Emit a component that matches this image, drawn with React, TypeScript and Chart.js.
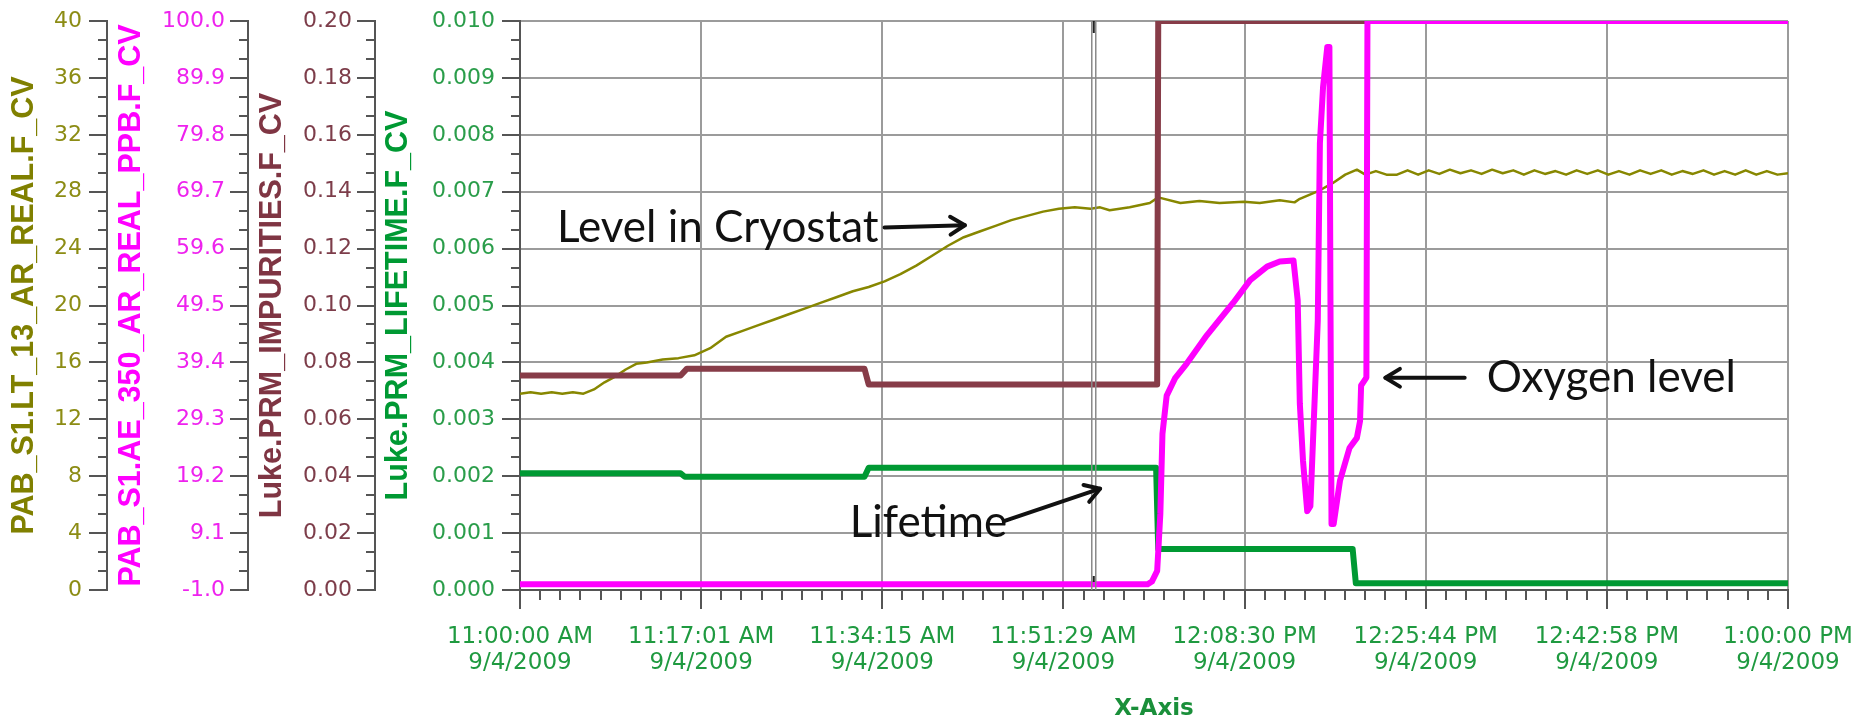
import { useEffect, useRef } from 'react';
import { Chart, registerables } from 'chart.js';

Chart.register(...registerables);

// ---------- tick labels ----------
const DATE_LABEL = '9/4/2009';
const xTickTimes = ['11:00:00 AM', '11:17:01 AM', '11:34:15 AM', '11:51:29 AM', '12:08:30 PM', '12:25:44 PM', '12:42:58 PM', '1:00:00 PM'];
const X_MIN = 0; // minutes after 11:00:00 AM
const X_MAX = 120;
const X_MINOR_DIV = 9;
const Y_MINOR_DIV = 3;

const levelTicks = ['0', '4', '8', '12', '16', '20', '24', '28', '32', '36', '40'];
const oxygenTicks = ['-1.0', '9.1', '19.2', '29.3', '39.4', '49.5', '59.6', '69.7', '79.8', '89.9', '100.0'];
const impTicks = ['0.00', '0.02', '0.04', '0.06', '0.08', '0.10', '0.12', '0.14', '0.16', '0.18', '0.20'];
const lifeTicks = ['0.000', '0.001', '0.002', '0.003', '0.004', '0.005', '0.006', '0.007', '0.008', '0.009', '0.010'];

// ---------- series (x in minutes after 11:00 AM) ----------
const levelTime = [0, 1, 2, 3, 4, 5, 6, 7, 8, 9, 10, 11, 12, 13.5, 15, 16.5, 18, 19.5, 21, 22.5, 24, 25.5, 27, 28.5, 30, 31.5, 33, 34.5, 36, 37.5, 39, 40.5, 42, 43.5, 45, 46.5, 48, 49.5, 51, 52.5, 54, 54.9, 55.8, 57.7, 59.6, 60.4, 62.5, 64.3, 66.2, 68.5, 70, 71.9, 73.3, 73.8, 75.7, 76.9, 78.1, 79.2, 80,
  81, 82, 83, 84, 85, 86, 87, 88, 89, 90, 91, 92, 93, 94, 95, 96, 97, 98, 99, 100, 101, 102, 103, 104, 105, 106, 107, 108, 109, 110, 111, 112, 113, 114, 115, 116, 117, 118, 119, 120];
const levelValue = [13.8, 13.9, 13.8, 13.9, 13.8, 13.9, 13.8, 14.1, 14.6, 15.0, 15.5, 15.9, 16.0, 16.2, 16.3, 16.5, 17.0, 17.8, 18.2, 18.6, 19.0, 19.4, 19.8, 20.2, 20.6, 21.0, 21.3, 21.7, 22.2, 22.8, 23.5, 24.2, 24.8, 25.2, 25.6, 26.0, 26.3, 26.6, 26.8, 26.9, 26.8, 26.9, 26.7, 26.9, 27.2, 27.6, 27.2, 27.35, 27.2, 27.3, 27.2, 27.4, 27.25, 27.5, 28.1, 28.6, 29.2, 29.55, 29.2,
  29.45, 29.2, 29.2, 29.5, 29.2, 29.5, 29.25, 29.55, 29.3, 29.5, 29.25, 29.55, 29.3, 29.5, 29.2, 29.5, 29.25, 29.45, 29.2, 29.5, 29.25, 29.5, 29.2, 29.45, 29.2, 29.5, 29.25, 29.5, 29.2, 29.45, 29.25, 29.5, 29.2, 29.45, 29.2, 29.5, 29.2, 29.45, 29.2, 29.3];

const oxygenTime = [0, 10, 20, 30, 40, 50, 59.4, 59.8, 60.3, 60.6, 60.8, 61.2, 62.0, 63.1, 65.0, 67.5, 69.1, 70.7, 71.9, 73.2, 73.6, 73.8, 74.1, 74.5, 74.8, 75.2, 75.5, 75.7, 76.0, 76.4, 76.6, 76.7, 76.8, 77.0, 77.6, 78.5, 79.2, 79.5, 79.6, 80.1, 80.2, 120];
const oxygenValue = [0, 0, 0, 0, 0, 0, 0, 0.5, 2.4, 12.5, 26.7, 33.5, 36.6, 39.2, 44.2, 50.0, 54.0, 56.4, 57.3, 57.5, 50.4, 32.1, 22.0, 13.0, 13.9, 32.6, 46.8, 78.3, 88.3, 95.4, 95.4, 50.4, 10.7, 10.7, 18.4, 24.2, 26.0, 29.0, 35.3, 36.7, 100, 100];

const impTime = [0, 15.2, 15.8, 32.6, 33.0, 60.3, 60.4, 120];
const impValue = [0.0754, 0.0754, 0.0778, 0.0778, 0.0722, 0.0722, 0.2, 0.2];

const lifeTime = [0, 15.2, 15.6, 32.6, 33.0, 60.2, 60.4, 78.8, 79.1, 120];
const lifeValue = [0.00205, 0.00205, 0.00199, 0.00199, 0.00215, 0.00215, 0.00072, 0.00072, 0.00012, 0.00012];

// cursor & annotations (data coordinates: minutes / lifetime axis)
const CURSOR_MIN = 54.3;
const notes = [
  { text: 'Level in Cryostat', x: 3.5, y: 0.00636, from: [34.5, 0.00637], to: [42.1, 0.00641] },
  { text: 'Lifetime', x: 31.2, y: 0.00118, from: [45.8, 0.00121], to: [54.9, 0.00178] },
  { text: 'Oxygen level', x: 91.5, y: 0.00373, from: [89.4, 0.00373], to: [81.9, 0.00373] },
];

// ---------- helpers ----------
const pts = (xs: number[], ys: number[]) => xs.map((x, i) => ({ x, y: ys[i] }));

function withMinors(majors: number[], div: number) {
  const out: number[] = [];
  for (let i = 0; i < majors.length; i++) {
    out.push(majors[i]);
    if (i < majors.length - 1) {
      for (let k = 1; k < div; k++) out.push(majors[i] + ((majors[i + 1] - majors[i]) * k) / div);
    }
  }
  return out;
}
function majorIndex(majors: number[], v: number) {
  const step = Math.abs(majors[1] - majors[0]);
  for (let i = 0; i < majors.length; i++) if (Math.abs(majors[i] - v) < step * 1e-4) return i;
  return -1;
}

const xMajors = xTickTimes.map((_, i) => X_MIN + (i * (X_MAX - X_MIN)) / (xTickTimes.length - 1));
const xAll = withMinors(xMajors, X_MINOR_DIV);

const GRID = '#9b9b9b';
const AXIS = '#555555';
const CLEAR = 'rgba(0,0,0,0)';
const TICK_FONT = 'DejaVu Sans';
const TITLE_FONT = 'Liberation Sans';

function yAxis(opts: {
  weight: number; width: number; labels: string[]; color: string; titleColor: string; title: string;
  pad: number; titlePad: number; grid?: boolean;
}) {
  const majors = opts.labels.map(parseFloat);
  const all = withMinors(majors, Y_MINOR_DIV);
  return {
    type: 'linear',
    position: 'left',
    weight: opts.weight,
    min: majors[0],
    max: majors[majors.length - 1],
    afterBuildTicks: (s: any) => { s.ticks = all.map((v) => ({ value: v })); },
    afterFit: (s: any) => { s.width = opts.width; },
    grid: {
      drawOnChartArea: !!opts.grid,
      drawTicks: true,
      tickLength: opts.pad,
      tickColor: CLEAR,
      lineWidth: 2,
      color: (c: any) => (c.tick && majorIndex(majors, c.tick.value) >= 0 ? GRID : CLEAR),
    },
    border: { display: true, color: AXIS, width: 2 },
    ticks: {
      autoSkip: false,
      padding: 0,
      color: opts.color,
      font: { family: TICK_FONT, size: 22 },
      callback: (v: number) => {
        const i = majorIndex(majors, v);
        return i >= 0 ? opts.labels[i] : '';
      },
    },
    title: {
      display: true,
      text: opts.title,
      color: opts.titleColor,
      font: { family: TITLE_FONT, size: 30.5, weight: 'bold', lineHeight: 1 },
      padding: { top: opts.titlePad, bottom: 0 },
    },
    _majors: majors,
  };
}

const overlayPlugin = {
  id: 'overlay',
  afterDatasetsDraw(chart: any) {
    const { ctx, chartArea } = chart;
    const xs = chart.scales.x;
    const cx = xs.getPixelForValue(CURSOR_MIN);
    ctx.save();
    ctx.strokeStyle = '#8a8a8a';
    ctx.lineWidth = 1.5;
    ctx.beginPath();
    ctx.moveTo(cx - 2, chartArea.top); ctx.lineTo(cx - 2, chartArea.bottom);
    ctx.moveTo(cx + 2, chartArea.top); ctx.lineTo(cx + 2, chartArea.bottom);
    ctx.stroke();
    ctx.strokeStyle = '#222';
    ctx.lineWidth = 2;
    ctx.beginPath();
    ctx.moveTo(cx, chartArea.top); ctx.lineTo(cx, chartArea.top + 12);
    ctx.moveTo(cx, chartArea.bottom - 14); ctx.lineTo(cx, chartArea.bottom - 8);
    ctx.stroke();
    ctx.restore();
  },
  afterDraw(chart: any) {
    const { ctx } = chart;
    ctx.save();
    ctx.strokeStyle = AXIS;
    ctx.lineWidth = 2;
    ctx.lineCap = 'butt';
    ['yLevel', 'yOxygen', 'yImp', 'yLife'].forEach((id) => {
      const s = chart.scales[id];
      const majors = s.options._majors as number[];
      ctx.beginPath();
      s.ticks.forEach((t: any) => {
        const y = Math.round(s.getPixelForValue(t.value));
        const len = majorIndex(majors, t.value) >= 0 ? 18 : 9;
        ctx.moveTo(s.right - len, y);
        ctx.lineTo(s.right, y);
      });
      ctx.stroke();
    });
    const xs = chart.scales.x;
    ctx.beginPath();
    xs.ticks.forEach((t: any) => {
      const x = Math.round(xs.getPixelForValue(t.value));
      const len = majorIndex(xMajors, t.value) >= 0 ? 19 : 10;
      ctx.moveTo(x, xs.top);
      ctx.lineTo(x, xs.top + len);
    });
    ctx.stroke();

    // annotations
    const ys = chart.scales.yLife;
    ctx.fillStyle = '#111';
    ctx.strokeStyle = '#111';
    ctx.font = '44px Lato';
    ctx.textBaseline = 'middle';
    ctx.textAlign = 'left';
    notes.forEach((n) => {
      ctx.fillText(n.text, xs.getPixelForValue(n.x), ys.getPixelForValue(n.y));
      const x1 = xs.getPixelForValue(n.from[0]);
      const y1 = ys.getPixelForValue(n.from[1]);
      const x2 = xs.getPixelForValue(n.to[0]);
      const y2 = ys.getPixelForValue(n.to[1]);
      ctx.lineWidth = 4;
      ctx.lineCap = 'round';
      ctx.lineJoin = 'round';
      ctx.beginPath();
      ctx.moveTo(x1, y1);
      ctx.lineTo(x2, y2);
      ctx.stroke();
      const a = Math.atan2(y2 - y1, x2 - x1);
      const h = 17;
      ctx.beginPath();
      ctx.moveTo(x2 - h * Math.cos(a - 0.55), y2 - h * Math.sin(a - 0.55));
      ctx.lineTo(x2, y2);
      ctx.lineTo(x2 - h * Math.cos(a + 0.55), y2 - h * Math.sin(a + 0.55));
      ctx.stroke();
    });
    ctx.restore();
  },
};

export default function App() {
  const ref = useRef<HTMLCanvasElement | null>(null);
  useEffect(() => {
    document.body.style.margin = '0';
    document.body.style.overflow = 'hidden';
    if (!ref.current) return;
    const chart = new Chart(ref.current, {
      type: 'line',
      data: {
        datasets: [
          { label: 'PAB_S1.AE_350_AR_REAL_PPB.F_CV', data: pts(oxygenTime, oxygenValue), yAxisID: 'yOxygen', borderColor: '#ff00ff', borderWidth: 6, order: 0 },
          { label: 'Luke.PRM_IMPURITIES.F_CV', data: pts(impTime, impValue), yAxisID: 'yImp', borderColor: '#873c48', borderWidth: 6, order: 1 },
          { label: 'Luke.PRM_LIFETIME.F_CV', data: pts(lifeTime, lifeValue), yAxisID: 'yLife', borderColor: '#009933', borderWidth: 6, order: 2 },
          { label: 'PAB_S1.LT_13_AR_REAL.F_CV', data: pts(levelTime, levelValue), yAxisID: 'yLevel', borderColor: '#878700', borderWidth: 2.5, order: 3 },
        ],
      },
      options: {
        animation: false,
        responsive: false,
        devicePixelRatio: 1,
        plugins: { legend: { display: false }, tooltip: { enabled: false } },
        elements: {
          point: { radius: 0 },
          line: { tension: 0, borderJoinStyle: 'round', fill: false },
        },
        layout: { padding: { top: 21, right: 72, bottom: 0, left: 0 } },
        scales: {
          x: {
            type: 'linear',
            position: 'bottom',
            min: X_MIN,
            max: X_MAX,
            afterBuildTicks: (s: any) => { s.ticks = xAll.map((v) => ({ value: v })); },
            afterFit: (s: any) => { s.height = 132; },
            grid: {
              drawTicks: true,
              tickLength: 34,
              tickColor: CLEAR,
              lineWidth: 2,
              color: (c: any) => (c.tick && majorIndex(xMajors, c.tick.value) >= 0 ? GRID : CLEAR),
            },
            border: { display: true, color: AXIS, width: 2 },
            ticks: {
              autoSkip: false,
              maxRotation: 0,
              minRotation: 0,
              padding: 0,
              color: '#1f9a40',
              font: { family: TICK_FONT, size: 23, lineHeight: 26 / 23 },
              callback: (v: number) => {
                const i = majorIndex(xMajors, v);
                return i >= 0 ? [xTickTimes[i], DATE_LABEL] : '';
              },
            },
            title: {
              display: true,
              text: 'X-Axis',
              color: '#1a8f3a',
              font: { family: TICK_FONT, size: 23, weight: 'bold', lineHeight: 1 },
              padding: { top: 0, bottom: 1.5 },
            },
          },
          yLevel: yAxis({ weight: 3, width: 107, labels: levelTicks, color: '#8c8c14', titleColor: '#808000', title: 'PAB_S1.LT_13_AR_REAL.F_CV', pad: 25, titlePad: 9.75 }),
          yOxygen: yAxis({ weight: 2, width: 141, labels: oxygenTicks, color: '#ee22ee', titleColor: '#ff00ff', title: 'PAB_S1.AE_350_AR_REAL_PPB.F_CV', pad: 23, titlePad: 9.75 }),
          yImp: yAxis({ weight: 1, width: 127, labels: impTicks, color: '#7d3d4a', titleColor: '#7f3543', title: 'Luke.PRM_IMPURITIES.F_CV', pad: 23, titlePad: 9.75 }),
          yLife: yAxis({ weight: 0, width: 145, labels: lifeTicks, color: '#2a9d4a', titleColor: '#009933', title: 'Luke.PRM_LIFETIME.F_CV', pad: 25, titlePad: 8.75, grid: true }),
        } as any,
      },
      plugins: [overlayPlugin],
    } as any);
    return () => chart.destroy();
  }, []);
  return (
    <div style={{ width: 1860, height: 722, position: 'relative', background: '#fff' }}>
      <canvas ref={ref} width={1860} height={722} style={{ display: 'block', width: 1860, height: 722 }} />
    </div>
  );
}
